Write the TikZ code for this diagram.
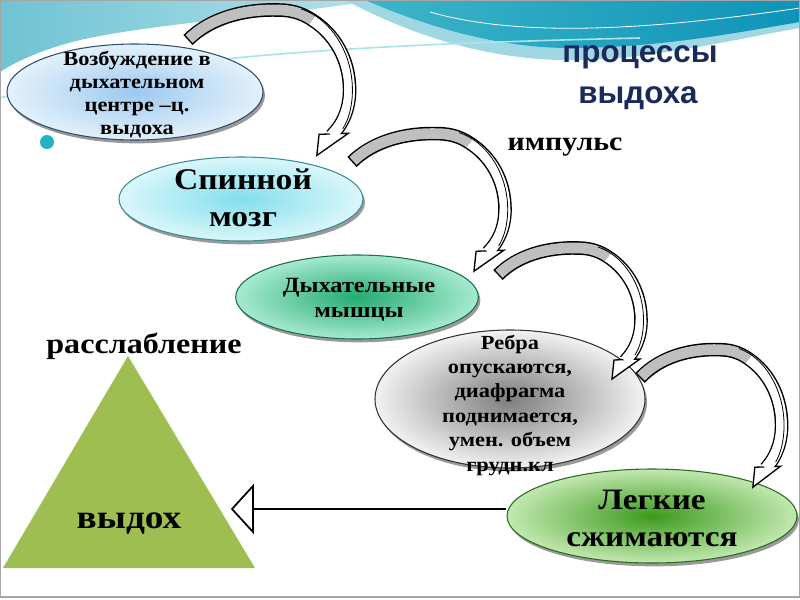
\documentclass[tikz,border=0pt]{standalone}
\usepackage{fontspec}
\setmainfont{Liberation Serif}
\newfontfamily\cam{Liberation Serif}[FakeStretch=1.12]
\newfontfamily\ttlfont{Liberation Sans}
\usetikzlibrary{shapes.geometric,shadows}
\definecolor{tealA}{HTML}{6FC3D3}
\definecolor{tealB}{HTML}{B4E2EA}
\definecolor{dkA}{HTML}{3DB5C8}
\definecolor{dkB}{HTML}{0E93B8}
\definecolor{ltband}{HTML}{9FD8E3}
\definecolor{cyanline}{HTML}{A8E4EA}
\definecolor{navy}{HTML}{1B2A5C}
\definecolor{arrgray}{HTML}{BFBFBF}
\definecolor{trigreen}{HTML}{9FBE52}
\definecolor{bullet}{HTML}{22B2C2}
\definecolor{e1in}{HTML}{9CC9EF}\definecolor{e1out}{HTML}{E3F1FB}\definecolor{e1line}{HTML}{2F4F6F}
\definecolor{e2in}{HTML}{82DEEC}\definecolor{e2out}{HTML}{DAF7FB}\definecolor{e2line}{HTML}{3C8C96}
\definecolor{e3in}{HTML}{24AB72}\definecolor{e3out}{HTML}{A6EAD0}\definecolor{e3line}{HTML}{1D6E4A}
\definecolor{e4in}{HTML}{7D7D7D}\definecolor{e4out}{HTML}{F2F2F2}\definecolor{e4line}{HTML}{333333}
\definecolor{e5in}{HTML}{3B9A1C}\definecolor{e5out}{HTML}{C2E8B0}\definecolor{e5line}{HTML}{2C6A1C}
\begin{document}
\begin{tikzpicture}[x=0.75pt,y=-0.75pt,
  ell/.style={ellipse, draw=#1, line width=0.8pt, inner sep=0pt,
     drop shadow={shadow xshift=1.5pt, shadow yshift=-2.5pt, opacity=0.4, fill=black}},
  txt/.style={align=center, inner sep=0pt, text=black},
  curvarr/.pic={
    \draw[line width=10.2pt, black] (0,0) .. controls (20,-20) and (50,-28) .. (80,-27) .. controls (95,-27) and (104,-22) .. (110,-18) .. controls (130,-5) and (143,18) .. (143,45) .. controls (143,62) and (137,76) .. (127,86);
    \draw[line width=8pt, arrgray, shorten <=1.1pt] (0,0) .. controls (20,-20) and (50,-28) .. (80,-27) .. controls (95,-27) and (104,-22) .. (110,-18);
    \draw[line width=8pt, white] (110,-18) .. controls (130,-5) and (143,18) .. (143,45) .. controls (143,62) and (137,76) .. (127,86);
    \draw[fill=white, line width=1pt, line join=miter] (116,85) -- (114,104) -- (142,84) -- cycle;
    \draw[line width=8pt, white] (143,45) .. controls (143,62) and (137,76) .. (127,86);
    \draw[line width=0.6pt] (100,-28) .. controls (125,-20) and (145.5,10) .. (145.5,45) .. controls (145.5,60) and (142,72) .. (137,80);
  }
]
\useasboundingbox (0,0) rectangle (800,600);
% background
\fill[white] (0,0) rectangle (800,600);
\shade[left color=tealA, right color=tealB] (0,0) -- (375,0) .. controls (300,14) and (160,22) .. (80,40) .. controls (40,50) and (15,62) .. (0,72) -- cycle;
\fill[ltband] (345,0) .. controls (420,40) and (500,62) .. (580,60) .. controls (660,58) and (730,40) .. (800,28) -- (800,0) -- cycle;
\shade[left color=dkA, right color=dkB] (365,0) .. controls (430,28) and (500,48) .. (570,48) .. controls (660,48) and (740,32) .. (800,22) -- (800,0) -- cycle;
\draw[white, line width=0.6pt] (430,12) .. controls (520,38) and (650,30) .. (800,8);
\draw[cyanline, line width=1.2pt] (0,98) .. controls (150,55) and (380,44) .. (640,38);
\fill[bullet] (47,142) circle[radius=7];
% titles
\node[anchor=base, text=navy, font={\ttlfont\bfseries\fontsize{23.5pt}{28pt}\selectfont}, inner sep=0pt] (ttl1) at (640,62) {процессы};
\node[anchor=base, text=navy, font={\ttlfont\bfseries\fontsize{23.5pt}{28pt}\selectfont}, inner sep=0pt] (ttl2) at (638,103) {выдоха};
\node[anchor=base, txt, font={\cam\bfseries\fontsize{20pt}{24pt}\selectfont}] (imp) at (565,150) {импульс};
\node[anchor=base, txt, font={\cam\bfseries\fontsize{21.5pt}{26pt}\selectfont}] (rel) at (144,353) {расслабление};
% triangle
\fill[trigreen] (128,356) -- (255,568) -- (3,568) -- cycle;
\node[anchor=base, txt, font={\cam\bfseries\fontsize{25pt}{30pt}\selectfont}] (vyd) at (129,528) {выдох};
% ellipses
\node[ell=e1line, inner color=e1in, outer color=e1out, minimum width=192pt, minimum height=72pt] (e1) at (135,92) {};
\node[ell=e2line, inner color=e2in, outer color=e2out, minimum width=183pt, minimum height=63pt] (e2) at (241,199) {};
\node[ell=e3line, inner color=e3in, outer color=e3out, minimum width=182pt, minimum height=63pt] (e3) at (357,297) {};
\node[ell=e4line, inner color=e4in, outer color=e4out, minimum width=202.5pt, minimum height=103.5pt] (e4) at (510,399) {};
\node[ell=e5line, inner color=e5in, outer color=e5out, minimum width=217.5pt, minimum height=70.5pt] (e5) at (652,516) {};
% texts
\node[txt, font={\cam\bfseries\fontsize{15pt}{17.25pt}\selectfont}] (t1) at (137,95) {Возбуждение в\\дыхательном\\центре –ц.\\выдоха};
\node[txt, font={\cam\bfseries\fontsize{22.5pt}{27.75pt}\selectfont}] (t2) at (243,198) {Спинной\\мозг};
\node[txt, font={\cam\bfseries\fontsize{16.3pt}{18.75pt}\selectfont}] (t3) at (359,300) {Дыхательные\\мышцы};
\node[txt, font={\cam\bfseries\fontsize{15pt}{18.3pt}\selectfont}] (t4) at (510,405) {Ребра\\опускаются,\\диафрагма\\поднимается,\\умен. объем\\грудн.кл};
\node[txt, font={\cam\bfseries\fontsize{22.2pt}{27.75pt}\selectfont}] (t5) at (652,518) {Легкие\\сжимаются};
% curved arrows
\coordinate (a1) at (188,40);
\coordinate (a2) at (352,162);
\coordinate (a3) at (498,275);
\coordinate (a4) at (640,378);
\pic[xscale=1.13, yscale=1.11] at (a1) {curvarr};
\pic[xscale=1.07, yscale=1.05] at (a2) {curvarr};
\pic at (a3) {curvarr};
\pic[xscale=0.99, yscale=1.05] at (a4) {curvarr};
% straight arrow
\coordinate (tip) at (232,509);
\draw[line width=2pt] (e5.west |- tip) -- ([xshift=15pt]tip);
\draw[fill=white, line width=1.3pt, line join=miter] (tip) -- ++(21,-23) -- ++(0,46) -- cycle;
% frame
\draw[gray!70, line width=0.8pt] (0.5,0.5) rectangle (799.5,597);
\end{tikzpicture}
\end{document}
